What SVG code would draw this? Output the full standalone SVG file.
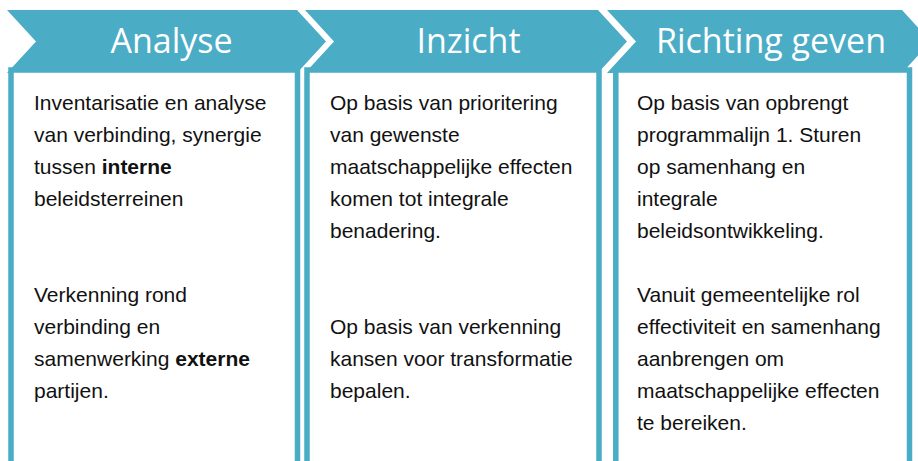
<svg xmlns="http://www.w3.org/2000/svg" width="918" height="461" viewBox="0 0 918 461">
  <style>
    .chev { fill: #4BACC6; }
    .box { fill: #FFFFFF; stroke: #4BACC6; stroke-width: 5.5; }
    .title { font-family: "Open Sans", "Noto Sans", sans-serif; font-size: 34px; fill: #FFFFFF; text-anchor: middle; }
    .body { font-family: "Liberation Sans", Arial, sans-serif; font-size: 21px; fill: #111111; }
    .b { font-weight: bold; }
  </style>
  <rect width="918" height="461" fill="#FFFFFF"/>

  <!-- Step 1: Analyse -->
  <g id="analyse">
    <polygon class="chev" points="7,10 297,10 326,41.5 297,73 7,73 36,41.5"/>
    <rect class="box" x="11" y="70" width="286.5" height="420"/>
    <text class="title" x="171.5" y="53">Analyse</text>
    <text class="body">
      <tspan x="34" y="110">Inventarisatie en analyse</tspan>
      <tspan x="34" y="142">van verbinding, synergie</tspan>
      <tspan x="34" y="174">tussen <tspan class="b">interne</tspan></tspan>
      <tspan x="34" y="206">beleidsterreinen</tspan>
      <tspan x="34" y="302">Verkenning rond</tspan>
      <tspan x="34" y="334">verbinding en</tspan>
      <tspan x="34" y="366">samenwerking <tspan class="b">externe</tspan></tspan>
      <tspan x="34" y="398">partijen.</tspan>
    </text>
  </g>

  <!-- Step 2: Inzicht -->
  <g id="inzicht">
    <polygon class="chev" points="305,10 598,10 627,41.5 598,73 305,73 334,41.5"/>
    <rect class="box" x="307" y="70" width="292" height="420"/>
    <text class="title" x="468.5" y="53">Inzicht</text>
    <text class="body">
      <tspan x="330" y="110">Op basis van prioritering</tspan>
      <tspan x="330" y="142">van gewenste</tspan>
      <tspan x="330" y="174">maatschappelijke effecten</tspan>
      <tspan x="330" y="206">komen tot integrale</tspan>
      <tspan x="330" y="238">benadering.</tspan>
      <tspan x="330" y="334">Op basis van verkenning</tspan>
      <tspan x="330" y="366">kansen voor transformatie</tspan>
      <tspan x="330" y="398">bepalen.</tspan>
    </text>
  </g>

  <!-- Step 3: Richting geven -->
  <g id="richting-geven">
    <polygon class="chev" points="607,10 902,10 931,41.5 902,73 607,73 636,41.5"/>
    <rect class="box" x="615.8" y="70" width="293.7" height="420"/>
    <text class="title" x="771" y="53">Richting geven</text>
    <text class="body">
      <tspan x="637" y="110">Op basis van opbrengt</tspan>
      <tspan x="637" y="142">programmalijn 1. Sturen</tspan>
      <tspan x="637" y="174">op samenhang en</tspan>
      <tspan x="637" y="206">integrale</tspan>
      <tspan x="637" y="238">beleidsontwikkeling.</tspan>
      <tspan x="637" y="302">Vanuit gemeentelijke rol</tspan>
      <tspan x="637" y="334">effectiviteit en samenhang</tspan>
      <tspan x="637" y="366">aanbrengen om</tspan>
      <tspan x="637" y="398">maatschappelijke effecten</tspan>
      <tspan x="637" y="430">te bereiken.</tspan>
    </text>
  </g>

  <!-- no connectors: the steps are joined by their chevron shapes -->
  <g id="connectors"/>
</svg>
